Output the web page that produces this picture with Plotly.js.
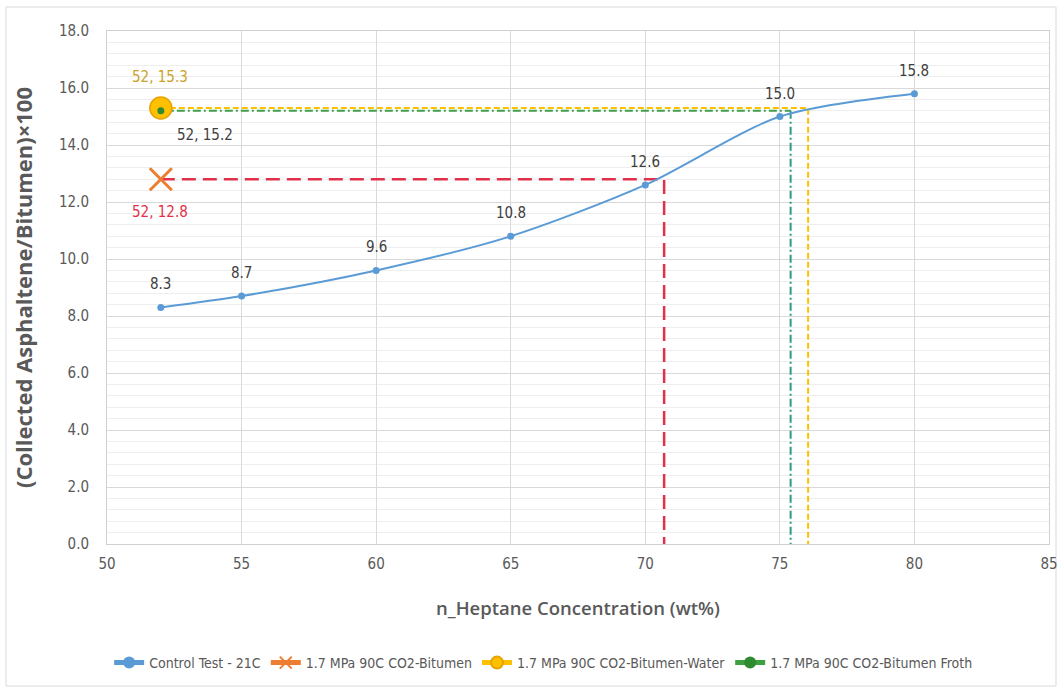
<!DOCTYPE html>
<html>
<head>
<meta charset="utf-8">
<script src="https://cdn.plot.ly/plotly-3.0.1.min.js"></script>
<style>
  html, body { margin: 0; padding: 0; background: #ffffff; }
  #chart { width: 1062px; height: 692px; }
</style>
</head>
<body>
<div id="chart"></div>
<script>
// Control test: asphaltene yield vs n-heptane concentration
const controlX = [52, 55, 60, 65, 70, 75, 80];
const controlY = [8.3, 8.7, 9.6, 10.8, 12.6, 15.0, 15.8];

// Single-point runs at 52 wt% n-heptane
const bitumenX = [52];
const bitumenY = [12.8];
const waterX = [52];
const waterY = [15.3];
const frothX = [52];
const frothY = [15.2];

// Equivalent n-heptane concentration
const bitumenEquivX = 70.7;
const waterEquivX = 76.05;
const frothEquivX = 75.4;

const seriesNames = [
  'Control Test - 21C',
  '1.7 MPa 90C CO2-Bitumen',
  '1.7 MPa 90C CO2-Bitumen-Water',
  '1.7 MPa 90C CO2-Bitumen Froth'
];

const FONT = 'Liberation Sans Narrow, DejaVu Sans Condensed, Arial Narrow, sans-serif';
const TITLE_FONT = 'Open Sans, sans-serif';
const AXIS_GREY = '#595959';

function fmt(v) { return v.toFixed(1); }

const traces = [];

// Drop lines (drawn first so markers sit on top)
traces.push({
  x: [bitumenX[0], bitumenEquivX, bitumenEquivX],
  y: [bitumenY[0], bitumenY[0], 0],
  mode: 'lines', showlegend: false, hoverinfo: 'skip',
  line: { color: '#E2304A', width: 2.5, dash: '14px,7px' }
});
traces.push({
  x: [waterX[0], waterEquivX, waterEquivX],
  y: [waterY[0], waterY[0], 0],
  mode: 'lines', showlegend: false, hoverinfo: 'skip',
  line: { color: '#FFC000', width: 2, dash: '6px,3px' }
});
traces.push({
  x: [frothX[0], frothEquivX],
  y: [frothY[0], frothY[0]],
  mode: 'lines', showlegend: false, hoverinfo: 'skip',
  line: { color: '#3F9F45', width: 2, dash: '8px,3px,2px,3px' }
});
traces.push({
  x: [frothEquivX, frothEquivX],
  y: [frothY[0], 0],
  mode: 'lines', showlegend: false, hoverinfo: 'skip',
  line: { color: '#2E9A86', width: 2, dash: '8px,3px,2px,3px' }
});

// Control curve
traces.push({
  name: seriesNames[0],
  x: controlX, y: controlY,
  mode: 'lines+markers',
  line: { color: '#5B9BD5', width: 2, shape: 'spline', smoothing: 0.8 },
  marker: { color: '#5B9BD5', size: 7, symbol: 'circle' }
});

traces.push({
  name: seriesNames[1],
  x: bitumenX, y: bitumenY,
  mode: 'lines+markers',
  line: { color: '#ED7D31', width: 2 },
  marker: { color: '#ED7D31', size: 22, symbol: 'x-thin', line: { color: '#ED7D31', width: 3 } }
});

traces.push({
  name: seriesNames[2],
  x: waterX, y: waterY,
  mode: 'lines+markers',
  line: { color: '#FFC000', width: 2 },
  marker: { color: '#FFC000', size: 22, symbol: 'circle', line: { color: '#E8A200', width: 1.5 } }
});

traces.push({
  name: seriesNames[3],
  x: frothX, y: frothY,
  mode: 'lines+markers',
  line: { color: '#3FA03F', width: 2 },
  marker: { color: '#2E8B2E', size: 7, symbol: 'circle', line: { width: 0 } }
});

// Value labels above the control points
const controlLabels = controlX.map((x, i) => ({
  x: x, y: controlY[i], text: fmt(controlY[i]), yshift: 23,
  font: { family: FONT, size: 15, color: '#404040' }
}));

const pointLabels = [
  { x: waterX[0], y: waterY[0], text: waterX[0] + ', ' + fmt(waterY[0]), yshift: 31, xshift: -1,
    font: { family: FONT, size: 15, color: '#C9A227' } },
  { x: frothX[0], y: frothY[0], text: frothX[0] + ', ' + fmt(frothY[0]), yshift: -24, xshift: 44,
    font: { family: FONT, size: 15, color: '#404040' } },
  { x: bitumenX[0], y: bitumenY[0], text: bitumenX[0] + ', ' + fmt(bitumenY[0]), yshift: -33, xshift: -1,
    font: { family: FONT, size: 15, color: '#E2304A' } }
];

const annotations = controlLabels.concat(pointLabels)
  .map(a => Object.assign({ xref: 'x', yref: 'y', showarrow: false }, a));

const plotW = 942, plotH = 513;
const layout = {
  width: 1062, height: 692,
  margin: { l: 107, r: 13, t: 31, b: 148 },
  paper_bgcolor: '#ffffff', plot_bgcolor: '#ffffff',
  font: { family: FONT, color: AXIS_GREY },
  showlegend: true,
  legend: {
    orientation: 'h', x: 0.463, xanchor: 'center', y: -0.232, yanchor: 'middle',
    font: { family: FONT, size: 14, color: AXIS_GREY },
    itemsizing: 'constant', itemwidth: 30, tracegroupgap: 0
  },
  xaxis: {
    range: [50, 85], dtick: 5, tick0: 50,
    showgrid: true, gridcolor: '#D9D9D9', gridwidth: 1,
    zeroline: false, showline: true, linecolor: '#D0D0D0', mirror: true,
    ticks: '', ticklabelstandoff: 6, tickfont: { family: FONT, size: 15, color: AXIS_GREY },
    title: { text: 'n_Heptane Concentration (wt%)', standoff: 30,
      font: { family: TITLE_FONT, size: 18.5, color: AXIS_GREY, weight: 600 } }
  },
  yaxis: {
    range: [0, 18], dtick: 2, tick0: 0, tickformat: '.1f',
    showgrid: true, gridcolor: '#D9D9D9', gridwidth: 1,
    minor: { dtick: 0.4, showgrid: true, gridcolor: '#EEEEEE', gridwidth: 1 },
    zeroline: false, showline: true, linecolor: '#D0D0D0', mirror: true,
    ticks: '', ticklabelstandoff: 14, tickfont: { family: FONT, size: 15, color: AXIS_GREY },
    title: { text: '(Collected Asphaltene/Bitumen)×100', standoff: 20,
      font: { family: TITLE_FONT, size: 22, color: AXIS_GREY, weight: 700 } }
  },
  annotations: annotations,
  shapes: [{
    type: 'rect', xref: 'paper', yref: 'paper', layer: 'below',
    x0: (6 - 107) / plotW, x1: (1056 - 107) / plotW,
    y0: (544 - 686) / plotH, y1: (544 - 7) / plotH,
    line: { color: '#D9D9D9', width: 1 }, fillcolor: 'rgba(0,0,0,0)'
  }]
};

Plotly.newPlot('chart', traces, layout, { displayModeBar: false, staticPlot: true });
</script>
</body>
</html>
